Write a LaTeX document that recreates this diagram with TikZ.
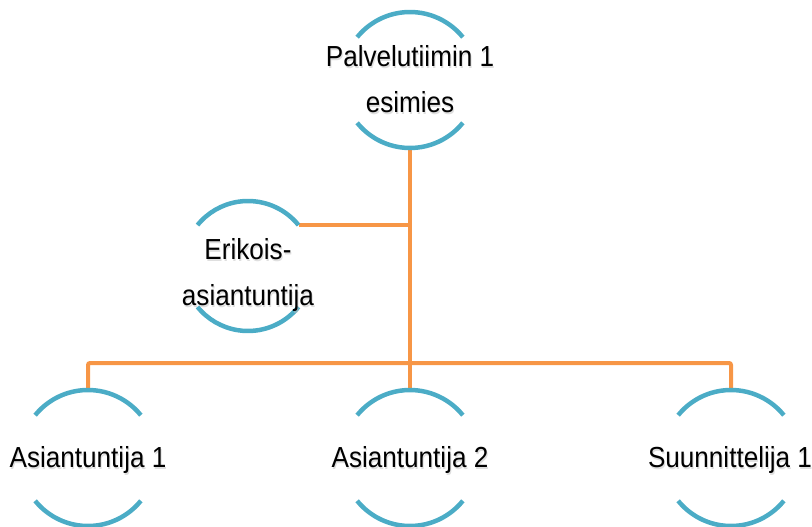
\documentclass[tikz,border=0pt]{standalone}
\usepackage{fontspec}
\setmainfont{Liberation Sans}[FakeStretch=0.9]
\definecolor{arcblue}{HTML}{4BACC6}
\definecolor{linkorange}{HTML}{F79646}
\tikzset{
  ring/.style={circle, inner sep=0pt, outer sep=0pt, minimum size=#1},
  arcline/.style={draw=arcblue, line width=4.5pt},
  link/.style={draw=linkorange, line width=4pt, rounded corners=2pt},
  lbl/.style={font=\fontsize{29}{46}\selectfont, align=center, inner sep=0pt, text=black},
  shadowlbl/.style={lbl, text=black!25, opacity=0.5}
}
\newcommand{\myarcs}[2]{%
  \draw[arcline] (#1.39) arc[start angle=39, end angle=141, radius=#2pt];
  \draw[arcline] (#1.-39) arc[start angle=-39, end angle=-141, radius=#2pt];}
\newcommand{\mylabel}[3]{%
  \node[shadowlbl] at ([shift={(1,2)}]#1) {#3};
  \node[lbl] (#2) at (#1) {#3};}
\begin{document}
\begin{tikzpicture}[x=1pt,y=-1pt]
\useasboundingbox (0,0) rectangle (812,527);
% ring placeholders
\node[ring=136pt] (P) at (410,80) {};
\node[ring=130pt] (E) at (248,266) {};
\node[ring=136pt] (A1) at (88,458) {};
\node[ring=136pt] (A2) at (410,458) {};
\node[ring=136pt] (S1) at (731,458) {};
\coordinate (J) at (410,363);
% connectors
\draw[link] (P.south) -- (A2.north);
\draw[link] (E.39) -- (E.39 -| P.south);
\draw[link] (A1.north) |- (J) -| (S1.north);
% arcs
\myarcs{P}{68}
\myarcs{E}{65}
\myarcs{A1}{68}
\myarcs{A2}{68}
\myarcs{S1}{68}
% labels
\mylabel{410,79.5}{tP}{Palvelutiimin 1\\esimies}
\mylabel{248,275}{tE}{Erikois-\\asiantuntija}
\mylabel{88,459.5}{tA1}{Asiantuntija 1}
\mylabel{410,459.5}{tA2}{Asiantuntija 2}
\mylabel{730,459.5}{tS1}{Suunnittelija 1}
\end{tikzpicture}
\end{document}
